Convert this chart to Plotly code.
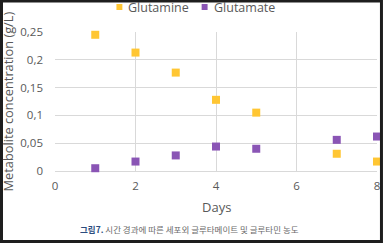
import plotly.graph_objects as go

days_gln = [1, 2, 3, 4, 5, 7, 8]
glutamine = [0.245, 0.213, 0.177, 0.128, 0.105, 0.031, 0.017]
days_glu = [1, 2, 3, 4, 5, 7, 8]
glutamate = [0.005, 0.017, 0.028, 0.044, 0.040, 0.056, 0.062]
y_ticks = [0, 0.05, 0.1, 0.15, 0.2, 0.25]
y_tick_text = ["0", "0,05", "0,1", "0,15", "0,2", "0,25"]
x_ticks = [0, 2, 4, 6, 8]
series_names = ["Glutamine", "Glutamate"]

C_GLN = "#FFC633"
C_GLU = "#8A55B5"
FONT = "Open Sans"
GRAY = "#595959"
GRID = "#D9D9D9"

L, R, T, B = 55, 6, 32, 72
W, H = 386, 243
pw, ph = W - L - R, H - T - B

def px(x):
    return (x - L) / pw

def py(y):
    return (H - B - y) / ph

fig = go.Figure()
fig.add_trace(go.Scatter(x=days_gln, y=glutamine, mode="markers", name=series_names[0],
                         marker=dict(symbol="square", size=8, color=C_GLN),
                         cliponaxis=False, showlegend=False))
fig.add_trace(go.Scatter(x=days_glu, y=glutamate, mode="markers", name=series_names[1],
                         marker=dict(symbol="square", size=8, color=C_GLU),
                         cliponaxis=False, showlegend=False))

shapes = []
annotations = []

legend_items = [(117, 127, series_names[0], C_GLN), (203, 213, series_names[1], C_GLU)]
for sx, tx, name, col in legend_items:
    shapes.append(dict(type="rect", xref="paper", yref="paper", layer="above",
                       x0=px(sx), x1=px(sx + 6), y0=py(10), y1=py(4),
                       line=dict(width=0), fillcolor=col))
    annotations.append(dict(text=name, xref="paper", yref="paper", x=px(tx), y=py(7),
                            xanchor="left", yanchor="middle", showarrow=False,
                            font=dict(size=12.5, color=GRAY)))

shapes.append(dict(type="rect", xref="paper", yref="paper", layer="above",
                   x0=px(1), x1=px(384.5), y0=py(241.5), y1=py(1),
                   line=dict(color="#1E1E1E", width=3)))

annotations += [
    dict(text="Metabolite concentration (g/L)", xref="paper", yref="paper",
         x=px(8), y=py(101), textangle=-90, showarrow=False,
         font=dict(size=12.8, color=GRAY), xanchor="center", yanchor="middle"),
    dict(text="Days", xref="paper", yref="paper", x=px(218), y=py(207),
         showarrow=False, font=dict(size=13, color=GRAY), xanchor="center", yanchor="middle"),
    dict(text="<b><span style='color:#2B4C7E'>그림7.</span></b> 시간 경과에 따른 세포외 글루타메이트 및 글루타민 농도",
         xref="paper", yref="paper", x=px(191), y=py(229), showarrow=False,
         font=dict(size=8.5, color="#6A6A6A", family="Noto Sans CJK KR"),
         xanchor="center", yanchor="middle"),
]

fig.update_layout(
    width=W, height=H,
    margin=dict(l=L, r=R, t=T, b=B),
    paper_bgcolor="white", plot_bgcolor="white",
    font=dict(family=FONT, size=12, color=GRAY),
    showlegend=False,
    xaxis=dict(range=[0, 8], tickmode="array", tickvals=x_ticks, showgrid=True,
               gridcolor=GRID, gridwidth=1,
               zeroline=False, showline=False, ticks="", tickfont=dict(size=11.5, color=GRAY),
               ticklabelstandoff=6, fixedrange=True),
    yaxis=dict(range=[0, 0.25], tickmode="array", tickvals=y_ticks, ticktext=y_tick_text,
               showgrid=True, gridcolor=GRID, gridwidth=1, zeroline=True,
               zerolinecolor=GRID, zerolinewidth=1, showline=False, ticks="",
               ticklabelstandoff=11, tickfont=dict(size=11.5, color=GRAY), fixedrange=True),
    annotations=annotations,
    shapes=shapes,
)

fig.write_html("out.html")
